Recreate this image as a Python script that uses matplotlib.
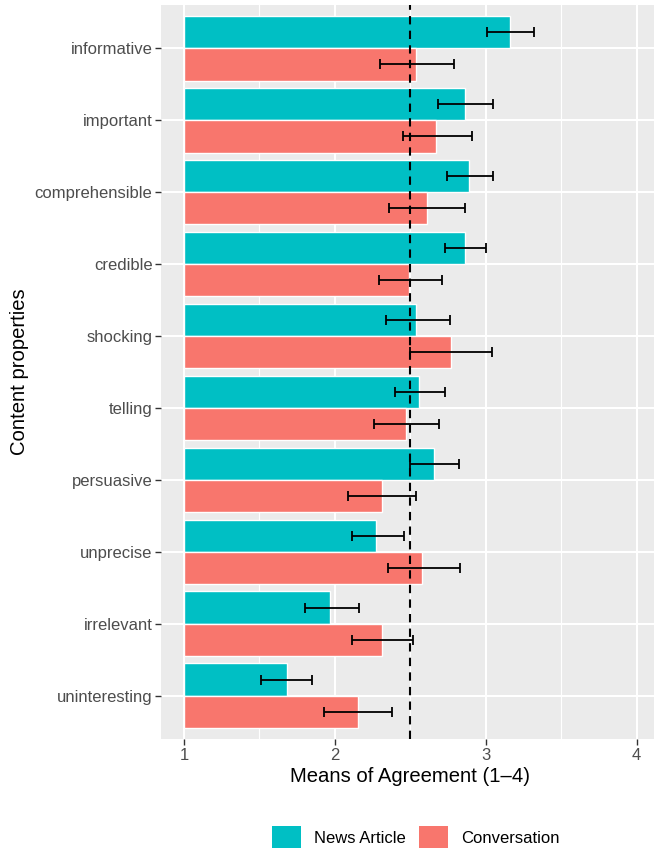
import numpy as np
import matplotlib.pyplot as plt
from matplotlib.patches import Patch

plt.rcParams['font.family'] = ['Liberation Sans', 'DejaVu Sans']

properties = ["informative", "important", "comprehensible", "credible", "shocking",
              "telling", "persuasive", "unprecise", "irrelevant", "uninteresting"]

news_mean = [3.16, 2.86, 2.89, 2.86, 2.54, 2.56, 2.66, 2.27, 1.97, 1.68]
news_lo = [3.01, 2.68, 2.74, 2.73, 2.34, 2.40, 2.50, 2.11, 1.80, 1.51]
news_hi = [3.32, 3.05, 3.05, 3.00, 2.76, 2.73, 2.82, 2.46, 2.16, 1.85]

conv_mean = [2.54, 2.67, 2.61, 2.49, 2.77, 2.47, 2.31, 2.58, 2.31, 2.15]
conv_lo = [2.30, 2.45, 2.36, 2.29, 2.50, 2.26, 2.09, 2.35, 2.11, 1.93]
conv_hi = [2.79, 2.91, 2.86, 2.71, 3.04, 2.69, 2.54, 2.83, 2.52, 2.38]

midpoint = 2.5
base = 1

news_col = "#00BFC4"
conv_col = "#F8766D"

fig = plt.figure(figsize=(6.54, 8.49), dpi=100)
ax = fig.add_axes([0.2468, 0.1296, 0.7613, 0.8645])
ax.set_facecolor("#EBEBEB")

y = np.arange(len(properties))[::-1]
h = 0.45

for vals, lo, hi, off, col in [(news_mean, news_lo, news_hi, h / 2, news_col),
                               (conv_mean, conv_lo, conv_hi, -h / 2, conv_col)]:
    vals = np.array(vals)
    ax.barh(y + off, vals - base, left=base, height=h, color=col,
            edgecolor="white", linewidth=1.0, zorder=3)
    ax.errorbar((np.array(lo) + np.array(hi)) / 2, y + off,
                xerr=(np.array(hi) - np.array(lo)) / 2, fmt="none",
                ecolor="black", elinewidth=1.3, capsize=3.6, capthick=1.3, zorder=4)

ax.axvline(midpoint, color="black", lw=1.5, dashes=(4, 3), zorder=5)

ax.set_xlim(0.85, 4.15)
ax.set_ylim(-0.6, 9.6)
ax.set_xticks([1, 2, 3, 4])
ax.set_xticks([1.5, 2.5, 3.5], minor=True)
ax.set_yticks(y)
ax.set_yticklabels(properties)
ax.grid(which="major", color="white", lw=1.5, zorder=0)
ax.grid(which="minor", axis="x", color="white", lw=0.8, zorder=0)
ax.set_axisbelow(True)
for s in ax.spines.values():
    s.set_visible(False)
ax.tick_params(which="major", length=4.3, width=1.0, color="#333333",
               labelcolor="#4D4D4D", labelsize=12, pad=2.2)
ax.tick_params(which="minor", length=0)

ax.set_xlabel("Means of Agreement (1\u20134)", fontsize=14.6, labelpad=3)
ax.set_ylabel("Content properties", fontsize=14.6, labelpad=4)

handles = [Patch(facecolor=news_col, label="News Article"),
           Patch(facecolor=conv_col, label="Conversation")]
fig.legend(handles=handles, loc="center", bbox_to_anchor=(0.636, 0.014), ncol=2,
           frameon=False, fontsize=12, handlelength=1.7, handleheight=1.7,
           handletextpad=0.8, columnspacing=0.8)

fig.savefig("out.png", dpi=100)
